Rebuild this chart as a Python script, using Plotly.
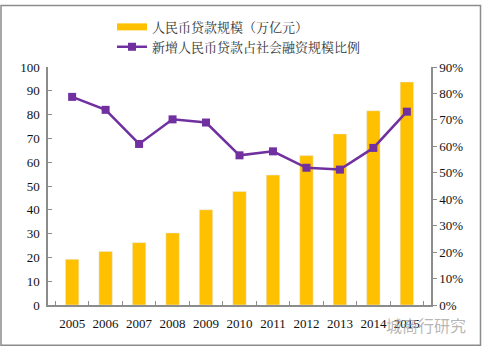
import plotly.graph_objects as go

years = ["2005", "2006", "2007", "2008", "2009", "2010", "2011", "2012", "2013", "2014", "2015"]
loan_scale = [19.2, 22.5, 26.2, 30.3, 40.0, 47.7, 54.6, 62.8, 71.9, 81.6, 93.7]
loan_share = [78.7, 73.8, 60.9, 70.2, 69.0, 56.6, 58.1, 51.9, 51.2, 59.4, 73.1]

name_bar = "人民币贷款规模（万亿元）"
name_line = "新增人民币贷款占社会融资规模比例"

BAR_C = "#FFC000"
LINE_C = "#7030A0"
AX_C = "#8C8C8C"
TICK_FONT = dict(family="Liberation Serif, Times New Roman, serif", size=13, color="#111111")

fig = go.Figure()
fig.add_trace(go.Bar(x=years, y=loan_scale, marker_color=BAR_C, width=0.4,
                     showlegend=False, yaxis="y"))
# legend swatch for bars (wide bar-like swatch)
fig.add_trace(go.Scatter(x=[None], y=[None], mode="lines", name=name_bar,
                         line=dict(color=BAR_C, width=7), yaxis="y"))
fig.add_trace(go.Scatter(x=years, y=loan_share, mode="lines+markers", name=name_line,
                         line=dict(color=LINE_C, width=2.5),
                         marker=dict(symbol="square", size=8, color=LINE_C),
                         yaxis="y2"))

L, R, T, B = 48, 51, 63, 43
W, H = 482, 348
pw, ph = W - L - R, H - T - B

def px_x(x):
    return (x - L) / pw

def px_y(y):
    return (H - B - y) / ph

fig.add_shape(type="rect", xref="paper", yref="paper",
              x0=px_x(1), x1=px_x(480.5), y0=px_y(346), y1=px_y(0.5),
              line=dict(color="#8C8C8C", width=1.5), layer="below")

fig.add_annotation(xref="paper", yref="paper", x=px_x(468), y=px_y(325),
                   xanchor="right", yanchor="middle", showarrow=False,
                   text="城商行研究", font=dict(family="Noto Sans CJK SC", size=16, color="rgba(150,150,150,0.7)"))

fig.update_layout(
    width=W, height=H,
    margin=dict(l=L, r=R, t=T, b=B),
    paper_bgcolor="white", plot_bgcolor="white",
    bargap=0.6,
    legend=dict(x=px_x(112), y=px_y(7), xanchor="left", yanchor="top",
                orientation="v", bgcolor="rgba(0,0,0,0)",
                font=dict(family="Noto Serif CJK SC, Noto Sans CJK SC", size=13, color="#333333"),
                itemwidth=30, tracegroupgap=5),
    xaxis=dict(type="category", showline=True, linecolor=AX_C, linewidth=1.5,
               ticks="inside", ticklen=4, tickcolor=AX_C, tickson="boundaries",
               tickfont=TICK_FONT, tickangle=0, showgrid=False, zeroline=False,
               ticklabelstandoff=6),
    yaxis=dict(range=[0, 100], dtick=10, showline=True, linecolor=AX_C, linewidth=1.5,
               ticks="inside", ticklen=4, tickcolor=AX_C, tickfont=TICK_FONT,
               showgrid=False, zeroline=False, ticklabelstandoff=4),
    yaxis2=dict(range=[0, 90], dtick=10, overlaying="y", side="right",
                showline=True, linecolor=AX_C, linewidth=1.5,
                ticks="outside", ticklen=4, tickcolor=AX_C, ticksuffix="%",
                tickfont=TICK_FONT, showgrid=False, zeroline=False),
)

fig.write_html("out.html")
